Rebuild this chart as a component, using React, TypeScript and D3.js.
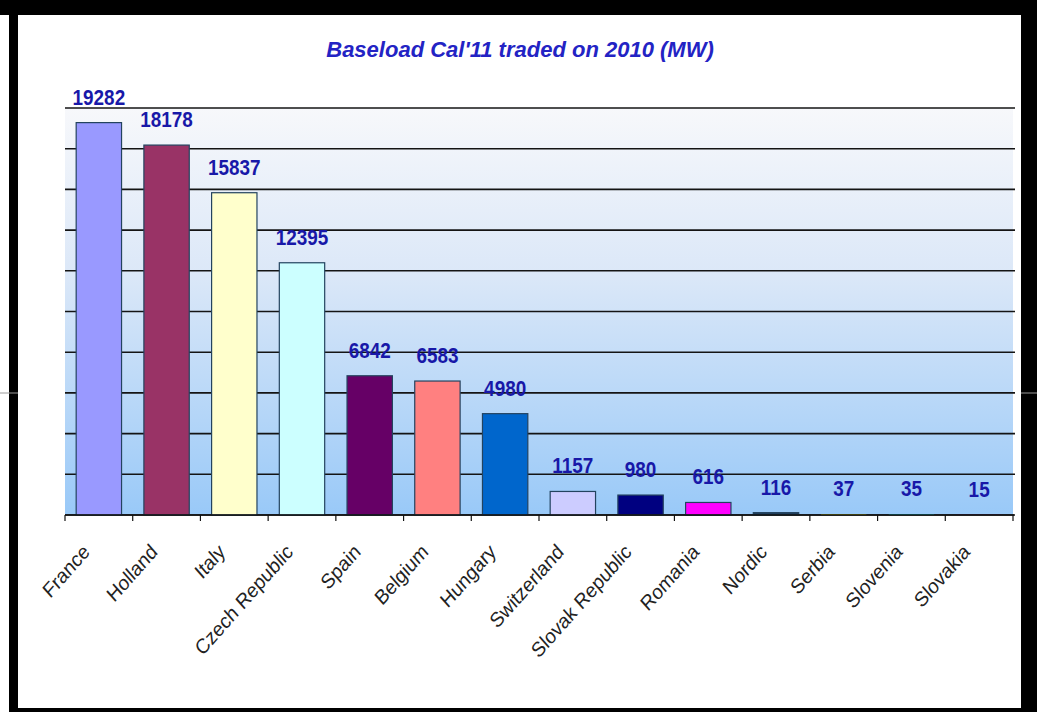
import React from "react";
import * as d3 from "d3";

const countries = ["France", "Holland", "Italy", "Czech Republic", "Spain", "Belgium", "Hungary", "Switzerland", "Slovak Republic", "Romania", "Nordic", "Serbia", "Slovenia", "Slovakia"];
const values = [19282, 18178, 15837, 12395, 6842, 6583, 4980, 1157, 980, 616, 116, 37, 35, 15];
const barColors = ["#9999ff", "#993366", "#ffffcc", "#ccffff", "#660066", "#ff8080", "#0066cc", "#ccccff", "#000080", "#ff00ff", "#1f3d5c", "#ffff00", "#00ffff", "#800080"];
const gridTicks = [0, 2000, 4000, 6000, 8000, 10000, 12000, 14000, 16000, 18000, 20000];
const title = "Baseload Cal'11 traded on 2010 (MW)";

const W = 1037, H = 712;
const left = 65, right = 1013, top = 108, bottom = 515;

export default function App() {
  const x = d3.scaleBand<string>().domain(countries).range([left, right]).paddingInner(0.33).paddingOuter(0.165);
  const y = d3.scaleLinear().domain([0, 20000]).range([bottom, top]);
  const step = x.step();
  const boundaries = d3.range(countries.length + 1).map(i => left + i * step);

  return (
    <svg width={W} height={H} style={{ position: "absolute", left: 0, top: 0, display: "block" }} fontFamily="'Liberation Sans', Arial, sans-serif">
      <defs>
        <linearGradient id="plotGrad" x1="0" y1="0" x2="0" y2="1">
          <stop offset="0%" stopColor="#f7f8fb" />
          <stop offset="40%" stopColor="#dce8f8" />
          <stop offset="100%" stopColor="#99c9f8" />
        </linearGradient>
      </defs>
      <rect x={0} y={0} width={W} height={H} fill="#ffffff" />
      {/* plot background */}
      <rect x={left} y={top} width={right - left} height={bottom - top} fill="url(#plotGrad)" />
      {/* gridlines */}
      {gridTicks.map(t => (
        <line key={t} x1={left} x2={right + 2} y1={y(t)} y2={y(t)} stroke="#141414" strokeWidth={1.6} />
      ))}
      {/* bars */}
      {countries.map((c, i) => {
        const h = bottom - y(values[i]);
        return (
          <rect key={c} x={x(c)} y={y(values[i])} width={x.bandwidth()} height={h}
            fill={barColors[i]} stroke={h >= 1.5 ? "#23435f" : "none"} strokeWidth={1.2} />
        );
      })}
      {/* axis */}
      <line x1={left} x2={right + 1} y1={bottom} y2={bottom} stroke="#111" strokeWidth={1.6} />
      {boundaries.map((b, i) => (
        <line key={i} x1={b} x2={b} y1={bottom} y2={bottom + 6} stroke="#111" strokeWidth={1.2} />
      ))}
      {/* value labels */}
      {countries.map((c, i) => {
        const cx = (x(c) as number) + x.bandwidth() / 2;
        return (
          <g key={c} transform={`translate(${cx},${y(values[i]) - 18}) scale(0.86,1)`}>
            <text textAnchor="middle" fontSize={22} fontWeight="bold" fill="#1818a8">{values[i]}</text>
          </g>
        );
      })}
      {/* category labels */}
      {countries.map((c) => {
        const cx = (x(c) as number) + x.bandwidth() / 2;
        return (
          <g key={c} transform={`translate(${cx - 8},${553}) scale(1,1.13) rotate(-45)`}>
            <text textAnchor="end" fontSize={18.5} fill="#222">{c}</text>
          </g>
        );
      })}
      {/* title */}
      <text x={520} y={57} textAnchor="middle" fontSize={22} fontWeight="bold" fontStyle="italic" fill="#2323c4">{title}</text>
      {/* frame */}
      <rect x={0} y={0} width={W} height={15} fill="#000" />
      <rect x={9} y={0} width={9} height={H} fill="#000" />
      <rect x={1021} y={0} width={16} height={H} fill="#000" />
      <rect x={9} y={708} width={W - 9} height={4} fill="#000" />
      <line x1={0} x2={18} y1={393} y2={393} stroke="#9a9a9a" strokeWidth={1} />
      <line x1={1021} x2={1037} y1={393} y2={393} stroke="#9a9a9a" strokeWidth={1} />
    </svg>
  );
}
